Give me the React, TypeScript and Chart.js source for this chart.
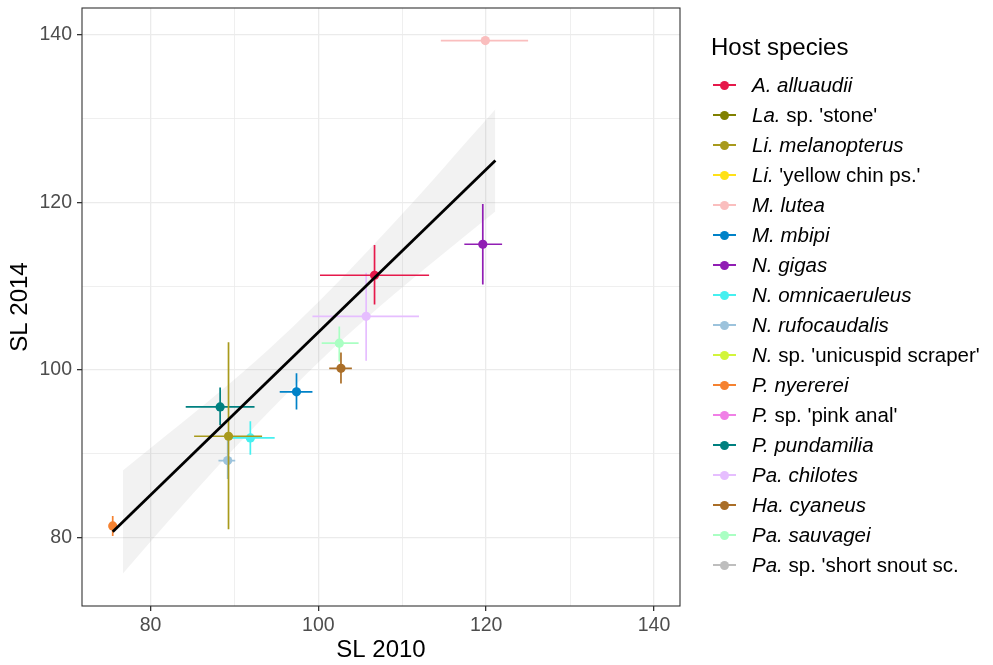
import React, { useEffect, useRef } from 'react';
import { Chart, registerables } from 'chart.js';

Chart.register(...registerables);

const FONT = "'Liberation Sans', Arial, sans-serif";

// Legend / species
const speciesItalic = ['A. alluaudii', 'La.', 'Li. melanopterus', 'Li.', 'M. lutea', 'M. mbipi', 'N. gigas', 'N. omnicaeruleus', 'N. rufocaudalis', 'N.', 'P. nyererei', 'P.', 'P. pundamilia', 'Pa. chilotes', 'Ha. cyaneus', 'Pa. sauvagei', 'Pa.'];
const speciesPlain = ['', " sp. 'stone'", '', " 'yellow chin ps.'", '', '', '', '', '', " sp. 'unicuspid scraper'", '', " sp. 'pink anal'", '', '', '', '', " sp. 'short snout sc."];
const speciesColors = ['#E6194B', '#808000', '#A89A1C', '#FFE119', '#FABEBE', '#0082C8', '#911EB4', '#46F0F0', '#9CC3DC', '#D2F53C', '#F58231', '#F080E6', '#008080', '#E6BEFF', '#AA6E28', '#AAFFC3', '#BEBEBE'];

// SL 2010 (x) mean and interval
const sl2010 = [106.7, null, 89.3, null, 119.9, 97.4, 119.6, 91.9, 89.2, null, 75.5, null, 88.3, 105.7, 102.7, 102.5, null];
const sl2010Lo = [100.2, null, 85.2, null, 114.6, 95.4, 117.4, 89.0, 88.1, null, 75.3, null, 84.2, 99.3, 101.3, 100.4, null];
const sl2010Hi = [113.2, null, 93.3, null, 125.0, 99.3, 121.9, 94.8, 90.1, null, 75.7, null, 92.4, 112.0, 104.0, 104.8, null];
// SL 2014 (y) mean and interval
const sl2014 = [111.3, null, 92.1, null, 139.3, 97.4, 115.0, 91.9, 89.2, null, 81.4, null, 95.6, 106.4, 100.2, 103.2, null];
const sl2014Lo = [107.8, null, 81.0, null, 139.1, 95.3, 110.2, 89.9, 87.0, null, 80.2, null, 93.4, 101.1, 98.4, 101.0, null];
const sl2014Hi = [114.9, null, 103.3, null, 139.5, 99.6, 119.8, 93.9, 91.7, null, 82.6, null, 97.9, 111.6, 102.1, 105.2, null];

// Regression line and confidence band
const fitX = [75.5, 121.1];
const fitY = [80.7, 124.98];
const bandX = [76.7, 82, 88, 94, 100, 106, 112, 118, 121.1];
const bandUpper = [88.0, 92.3, 97.2, 102.4, 108.1, 114.3, 120.8, 127.6, 131.1];
const bandLower = [75.7, 81.8, 88.5, 94.9, 100.9, 106.4, 111.5, 116.4, 118.9];

// Ticks
const xMajorTicks = [80, 100, 120, 140];
const xMinorTicks = [90, 110, 130];
const yMajorTicks = [80, 100, 120, 140];
const yMinorTicks = [90, 110, 130];

const borderPlugin = {
  id: 'panelBorder',
  afterDatasetsDraw(chart: any) {
    const { ctx, chartArea } = chart;
    ctx.save();
    ctx.strokeStyle = '#333333';
    ctx.lineWidth = 1.1;
    ctx.strokeRect(chartArea.left, chartArea.top, chartArea.right - chartArea.left, chartArea.bottom - chartArea.top);
    ctx.restore();
  },
};

function makeScale(major: number[], minor: number[], min: number, max: number, title: string, isX: boolean) {
  const all = [...major, ...minor].sort((a, b) => a - b);
  return {
    type: 'linear',
    min,
    max,
    afterBuildTicks: (s: any) => {
      s.ticks = all.map((v) => ({ value: v }));
    },
    afterFit: (s: any) => {
      if (isX) s.height = 59;
      else s.width = 82;
      s.paddingTop = 0;
      s.paddingBottom = 0;
      s.paddingLeft = 0;
      s.paddingRight = 0;
    },
    border: { display: false },
    grid: {
      color: '#EBEBEB',
      lineWidth: (c: any) => (c.tick && major.includes(c.tick.value) ? 1.3 : 0.8),
      tickColor: (c: any) => (c.tick && major.includes(c.tick.value) ? '#333333' : 'rgba(0,0,0,0)'),
      tickLength: 5,
      drawTicks: true,
    },
    ticks: {
      autoSkip: false,
      maxRotation: 0,
      padding: isX ? 3 : 5,
      color: '#4D4D4D',
      font: { family: FONT, size: 19.5 },
      callback: (v: any) => (major.includes(v) ? String(v) : ''),
    },
    title: {
      display: true,
      text: title,
      color: '#000000',
      font: { family: FONT, size: 24, lineHeight: 1.2 },
      padding: isX ? { top: 0, bottom: 0.6 } : { top: 5.6, bottom: 0 },
    },
  };
}

export default function App() {
  const canvasRef = useRef<HTMLCanvasElement | null>(null);

  useEffect(() => {
    const datasets: any[] = [];
    datasets.push({
      type: 'line',
      data: fitX.map((x, i) => ({ x, y: fitY[i] })),
      borderColor: '#000000',
      borderWidth: 2.8,
      pointRadius: 0,
      fill: false,
      order: 0,
    });
    speciesColors.forEach((col, i) => {
      const x = sl2010[i];
      const y = sl2014[i];
      if (x === null || y === null) return;
      datasets.push({
        type: 'line',
        data: [
          { x: sl2010Lo[i], y },
          { x: sl2010Hi[i], y },
          { x, y: null },
          { x, y: sl2014Lo[i] },
          { x, y: sl2014Hi[i] },
          { x, y: null },
          { x, y },
        ],
        borderColor: col,
        borderWidth: 1.7,
        spanGaps: false,
        pointRadius: [0, 0, 0, 0, 0, 0, 4.6],
        pointBackgroundColor: col,
        pointBorderWidth: 0,
        fill: false,
        order: 1,
      });
    });
    const upperIndex = datasets.length;
    datasets.push({
      type: 'line',
      data: bandX.map((x, i) => ({ x, y: bandUpper[i] })),
      borderWidth: 0,
      borderColor: 'rgba(0,0,0,0)',
      pointRadius: 0,
      backgroundColor: 'rgba(0,0,0,0.05)',
      fill: { target: upperIndex + 1 },
      cubicInterpolationMode: 'monotone',
      order: 2,
    });
    datasets.push({
      type: 'line',
      data: bandX.map((x, i) => ({ x, y: bandLower[i] })),
      borderWidth: 0,
      borderColor: 'rgba(0,0,0,0)',
      pointRadius: 0,
      fill: false,
      cubicInterpolationMode: 'monotone',
      order: 3,
    });

    const chart = new Chart(canvasRef.current as HTMLCanvasElement, {
      type: 'line',
      data: { datasets },
      options: {
        animation: false,
        responsive: false,
        devicePixelRatio: 1,
        layout: { padding: { left: 0, top: 8, right: 313, bottom: 0 } },
        plugins: { legend: { display: false }, tooltip: { enabled: false } },
        events: [],
        scales: {
          x: makeScale(xMajorTicks, xMinorTicks, 71.84, 143.1, 'SL 2010', true),
          y: makeScale(yMajorTicks, yMinorTicks, 71.85, 143.18, 'SL 2014', false),
        },
      } as any,
      plugins: [borderPlugin],
    } as any);
    return () => chart.destroy();
  }, []);

  return (
    <div style={{ position: 'absolute', left: 0, top: 0, width: 993, height: 665, background: '#fff', fontFamily: FONT }}>
      <canvas ref={canvasRef} width={993} height={665} style={{ position: 'absolute', left: 0, top: 0 }} />
      <div style={{ position: 'absolute', left: 711, top: 33, fontSize: 24, lineHeight: '28px', color: '#000', whiteSpace: 'nowrap' }}>
        Host species
      </div>
      {speciesColors.map((col, i) => (
        <div key={i} style={{ position: 'absolute', left: 0, top: 70 + i * 30, width: 993, height: 30 }}>
          <div style={{ position: 'absolute', left: 713, top: 14.2, width: 23, height: 1.7, background: col }} />
          <div style={{ position: 'absolute', left: 720.2, top: 10.5, width: 9, height: 9, borderRadius: '50%', background: col }} />
          <div style={{ position: 'absolute', left: 752, top: 0, height: 30, lineHeight: '30px', fontSize: 20.5, color: '#000', whiteSpace: 'nowrap' }}>
            <span style={{ fontStyle: 'italic' }}>{speciesItalic[i]}</span>
            <span>{speciesPlain[i]}</span>
          </div>
        </div>
      ))}
    </div>
  );
}
